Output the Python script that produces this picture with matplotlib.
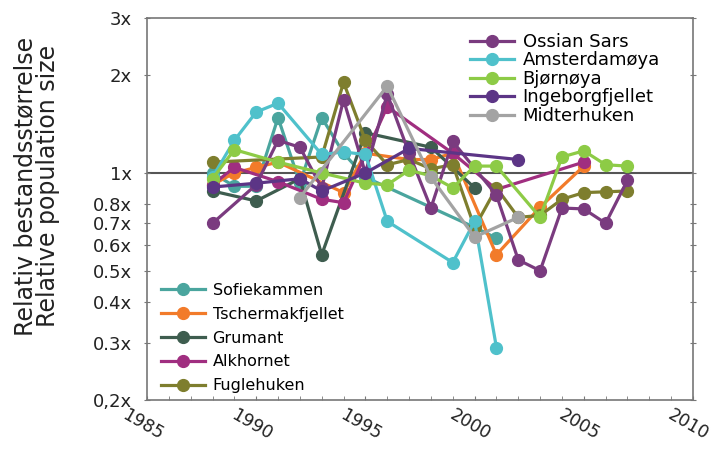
import matplotlib
matplotlib.use("Agg")
import matplotlib.pyplot as plt
from matplotlib.ticker import FixedLocator, NullLocator, MultipleLocator

plt.rcParams['font.family'] = ['DejaVu Sans']

# ---- data ----
ossian_years = [1988, 1990, 1991, 1992, 1993, 1994, 1995, 1996, 1997, 1998, 1999, 2001, 2002, 2003, 2004, 2005, 2006, 2007]
ossian_vals = [0.70, 0.92, 1.26, 1.20, 0.90, 1.68, 1.00, 1.75, 1.15, 0.78, 1.25, 0.855, 0.54, 0.50, 0.78, 0.775, 0.70, 0.95]

amsterdam_years = [1988, 1989, 1990, 1991, 1993, 1994, 1995, 1996, 1999, 2000, 2001]
amsterdam_vals = [0.97, 1.26, 1.54, 1.64, 1.14, 1.16, 1.14, 0.71, 0.53, 0.71, 0.29]

bjornoya_years = [1988, 1989, 1991, 1993, 1995, 1996, 1997, 1998, 1999, 2000, 2001, 2003, 2004, 2005, 2006, 2007]
bjornoya_vals = [0.96, 1.18, 1.08, 1.00, 0.93, 0.92, 1.02, 0.98, 0.90, 1.05, 1.05, 0.73, 1.12, 1.17, 1.06, 1.05]

ingeborg_years = [1988, 1990, 1992, 1993, 1995, 1997, 2002]
ingeborg_vals = [0.905, 0.93, 0.96, 0.88, 1.00, 1.19, 1.10]

midterhuken_years = [1992, 1996, 1998, 2000, 2002]
midterhuken_vals = [0.84, 1.85, 0.97, 0.635, 0.73]

sofiekammen_years = [1988, 1989, 1990, 1991, 1992, 1993, 1994, 1995, 2000, 2001]
sofiekammen_vals = [1.00, 0.91, 0.91, 1.48, 0.93, 1.48, 1.15, 0.97, 0.68, 0.63]

tscherm_years = [1988, 1989, 1990, 1991, 1994, 1995, 1997, 1998, 1999, 2001, 2003, 2005]
tscherm_vals = [0.92, 1.00, 1.04, 1.08, 0.87, 1.15, 1.10, 1.10, 1.15, 0.56, 0.785, 1.05]

grumant_years = [1988, 1990, 1992, 1993, 1995, 1998, 2000]
grumant_vals = [0.88, 0.82, 0.96, 0.56, 1.33, 1.20, 0.90]

alkhornet_years = [1988, 1989, 1991, 1993, 1994, 1996, 1999, 2001, 2005]
alkhornet_vals = [0.92, 1.04, 0.94, 0.83, 0.81, 1.60, 1.15, 0.89, 1.08]

fugle_years = [1988, 1993, 1994, 1995, 1996, 1997, 1998, 1999, 2000, 2001, 2002, 2003, 2004, 2005, 2006, 2007]
fugle_vals = [1.08, 1.12, 1.90, 1.26, 1.06, 1.10, 1.03, 1.06, 0.68, 0.90, 0.73, 0.74, 0.83, 0.87, 0.875, 0.88]

ytick_vals = [0.2, 0.3, 0.4, 0.5, 0.6, 0.7, 0.8, 1, 2, 3]
ytick_labels = ["0,2x", "0.3x", "0.4x", "0.5x", "0.6x", "0.7x", "0.8x", "1x", "2x", "3x"]
xtick_vals = [1985, 1990, 1995, 2000, 2005, 2010]

upper_series = [
    ("Ossian Sars", ossian_years, ossian_vals, "#7A3B7F"),
    ("Amsterdamøya", amsterdam_years, amsterdam_vals, "#4FC1CB"),
    ("Bjørnøya", bjornoya_years, bjornoya_vals, "#8DCB46"),
    ("Ingeborgfjellet", ingeborg_years, ingeborg_vals, "#5C3586"),
    ("Midterhuken", midterhuken_years, midterhuken_vals, "#A3A3A3"),
]
lower_series = [
    ("Sofiekammen", sofiekammen_years, sofiekammen_vals, "#4AA59E"),
    ("Tschermakfjellet", tscherm_years, tscherm_vals, "#F27B2A"),
    ("Grumant", grumant_years, grumant_vals, "#3E5D4F"),
    ("Alkhornet", alkhornet_years, alkhornet_vals, "#A02E80"),
    ("Fuglehuken", fugle_years, fugle_vals, "#7E7E2E"),
]

fig = plt.figure(figsize=(7.12, 4.57), dpi=100)
ax = fig.add_axes([147/712, 57/457, (693-147)/712, (400-18)/457])
ax.set_yscale('log')
ax.set_ylim(0.2, 3)
ax.set_xlim(1985, 2010)

ax.axhline(1, color='#555555', lw=1.5, zorder=1)

upper_names = [s[0] for s in upper_series]
handles_u, handles_l = [], []
for name, yrs, vals, col in lower_series + upper_series:
    h, = ax.plot(yrs, vals, '-o', color=col, lw=2.3, ms=8.5, label=name, zorder=3)
    if name in upper_names:
        handles_u.append(h)
    else:
        handles_l.append(h)
handles_u.sort(key=lambda h: upper_names.index(h.get_label()))

ax.yaxis.set_major_locator(FixedLocator(ytick_vals))
ax.yaxis.set_minor_locator(NullLocator())
ax.set_yticklabels(ytick_labels, fontsize=13, color='#222222')
ax.xaxis.set_major_locator(FixedLocator(xtick_vals))
ax.xaxis.set_minor_locator(MultipleLocator(1))
ax.set_xticklabels([str(v) for v in xtick_vals], fontsize=12.5, rotation=-30,
                   ha='center', va='top', rotation_mode='anchor', color='#222222')
ax.tick_params(axis='x', which='both', direction='in', length=3, color='#777777', top=False, pad=12)
ax.tick_params(axis='y', which='both', direction='inout', length=4, color='#777777', right=True, pad=9)

for sp in ax.spines.values():
    sp.set_color('#777777')
    sp.set_linewidth(1.2)

ax.set_ylabel("Relativ bestandsstørrelse\nRelative population size", fontsize=17, color='#222222', linespacing=0.95)
ax.yaxis.set_label_coords(-0.159, 0.56)

leg1 = ax.legend(handles=handles_u, loc='upper left', bbox_to_anchor=(0.579, 0.980), frameon=False,
                 fontsize=13, handlelength=2.4, labelspacing=0.03, handletextpad=0.5, borderaxespad=0)
ax.add_artist(leg1)
ax.legend(handles=handles_l, loc='upper left', bbox_to_anchor=(0.0147, 0.323), frameon=False,
          fontsize=11.5, handlelength=2.7, labelspacing=0.55, handletextpad=0.5, borderaxespad=0)

fig.savefig("out.png", dpi=100)
